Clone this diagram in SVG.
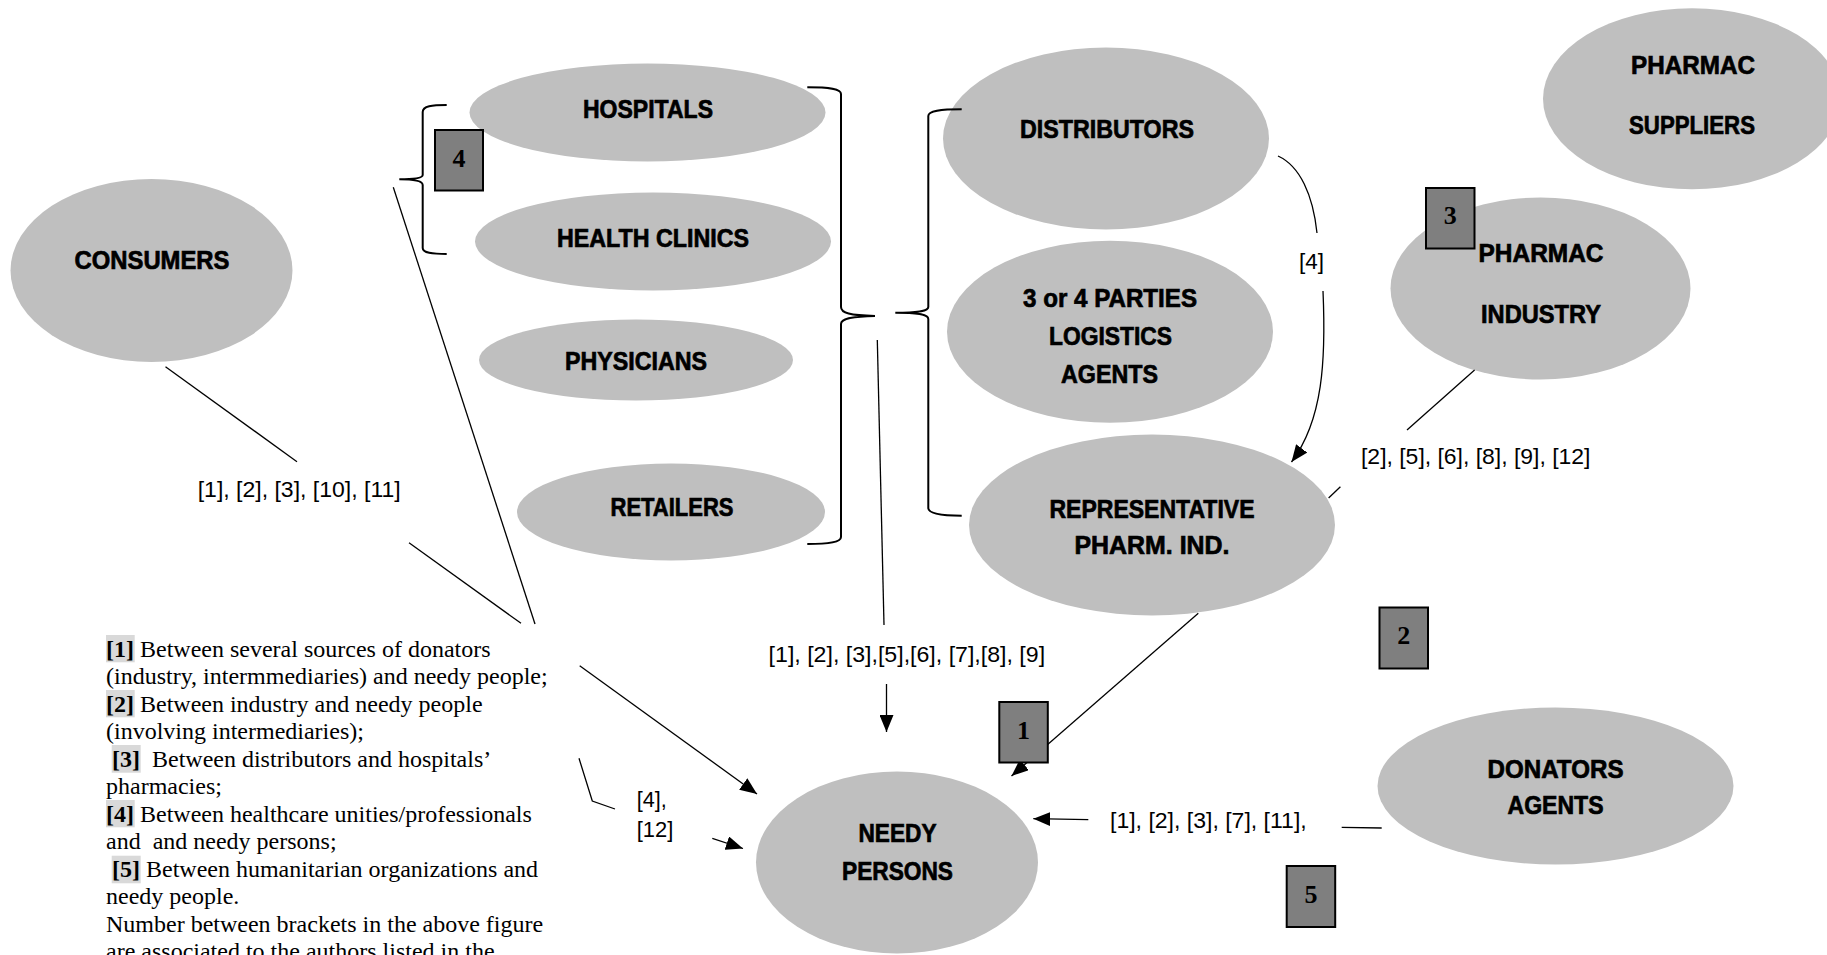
<svg xmlns="http://www.w3.org/2000/svg" width="1827" height="955" viewBox="0 0 1827 955">
<style>
.node ellipse{fill:#bfbfbf;stroke:none}
.lbl{font-family:"Liberation Sans",Arial,sans-serif;font-weight:bold;font-size:26px;fill:#000;stroke:#000;stroke-width:0.7;text-anchor:middle}
.box rect{fill:#7f7f7f;stroke:#000;stroke-width:2}
.box text{font-family:"Liberation Serif","Times New Roman",serif;font-weight:bold;font-size:26px;fill:#000;text-anchor:middle}
.ln{fill:none;stroke:#000;stroke-width:1.3}
.br{fill:none;stroke:#000;stroke-width:2}
.ref{font-family:"Liberation Sans",Arial,sans-serif;font-size:22px;fill:#000}
.leg{font-family:"Liberation Serif","Times New Roman",serif;font-size:24px;fill:#000;white-space:pre}
.hl{fill:#d9d9d9}
</style>
<defs>
<marker id="ah" markerUnits="userSpaceOnUse" markerWidth="18" markerHeight="14" refX="17" refY="7" orient="auto">
<path d="M0,0 L17,7 L0,14 z" fill="#000"/>
</marker>
</defs>
<rect width="1827" height="955" fill="#fff"/>

<g id="consumers" class="node"><ellipse cx="151.5" cy="270.5" rx="141" ry="91.5"/><text class="lbl" x="152" y="269" textLength="155" lengthAdjust="spacingAndGlyphs">CONSUMERS</text></g>
<g id="hospitals" class="node"><ellipse cx="647.5" cy="112.5" rx="178" ry="49"/><text class="lbl" x="648" y="118" textLength="130" lengthAdjust="spacingAndGlyphs">HOSPITALS</text></g>
<g id="health-clinics" class="node"><ellipse cx="653" cy="241.5" rx="178" ry="49"/><text class="lbl" x="653" y="246.5" textLength="192" lengthAdjust="spacingAndGlyphs">HEALTH CLINICS</text></g>
<g id="physicians" class="node"><ellipse cx="636" cy="360" rx="157" ry="40.5"/><text class="lbl" x="636" y="369.5" textLength="142" lengthAdjust="spacingAndGlyphs">PHYSICIANS</text></g>
<g id="retailers" class="node"><ellipse cx="671" cy="512" rx="154" ry="48.5"/><text class="lbl" x="672" y="515.5" textLength="123" lengthAdjust="spacingAndGlyphs">RETAILERS</text></g>
<g id="distributors" class="node"><ellipse cx="1106" cy="138.5" rx="163" ry="91"/><text class="lbl" x="1107" y="137.5" textLength="174" lengthAdjust="spacingAndGlyphs">DISTRIBUTORS</text></g>
<g id="logistics" class="node"><ellipse cx="1110" cy="331.7" rx="163" ry="91"/><text class="lbl" x="1110" y="306.7" textLength="174" lengthAdjust="spacingAndGlyphs">3 or 4 PARTIES</text><text class="lbl" x="1110.5" y="345" textLength="123" lengthAdjust="spacingAndGlyphs">LOGISTICS</text><text class="lbl" x="1109.5" y="383" textLength="97" lengthAdjust="spacingAndGlyphs">AGENTS</text></g>
<g id="representative" class="node"><ellipse cx="1152" cy="525" rx="183" ry="90.5"/><text class="lbl" x="1152" y="517.5" textLength="205" lengthAdjust="spacingAndGlyphs">REPRESENTATIVE</text><text class="lbl" x="1152" y="553.5" textLength="155" lengthAdjust="spacingAndGlyphs">PHARM. IND.</text></g>
<g id="pharmac-suppliers" class="node"><ellipse cx="1692" cy="98.8" rx="149" ry="90.5"/><text class="lbl" x="1693" y="73.5" textLength="124" lengthAdjust="spacingAndGlyphs">PHARMAC</text><text class="lbl" x="1692" y="133.5" textLength="126" lengthAdjust="spacingAndGlyphs">SUPPLIERS</text></g>
<g id="pharmac-industry" class="node"><ellipse cx="1540.5" cy="288.5" rx="150" ry="91"/><text class="lbl" x="1541" y="262" textLength="125" lengthAdjust="spacingAndGlyphs">PHARMAC</text><text class="lbl" x="1541" y="322.5" textLength="120" lengthAdjust="spacingAndGlyphs">INDUSTRY</text></g>
<g id="donators-agents" class="node"><ellipse cx="1555.5" cy="786" rx="178" ry="78.5"/><text class="lbl" x="1555.5" y="777.5" textLength="136" lengthAdjust="spacingAndGlyphs">DONATORS</text><text class="lbl" x="1555.5" y="814" textLength="96" lengthAdjust="spacingAndGlyphs">AGENTS</text></g>
<g id="needy-persons" class="node"><ellipse cx="897" cy="862.5" rx="141" ry="91"/><text class="lbl" x="897.5" y="841.7" textLength="78" lengthAdjust="spacingAndGlyphs">NEEDY</text><text class="lbl" x="897.5" y="880" textLength="111" lengthAdjust="spacingAndGlyphs">PERSONS</text></g>

<g id="connectors">
<path class="br" d="M446.7,105 C432,105 422.7,106 422.7,112 L422.7,175 C422.7,178 415,179.3 399.3,179.3 C415,179.3 422.7,181 422.7,185 L422.7,248 C422.7,253 432,254 446.7,254"/>
<path class="br" d="M807.3,87.3 C830,87.3 841,89 841,94 L841,307 C841,313 850,315.5 875,316 C850,316.5 841,319 841,324 L841,537 C841,542 830,544 807.3,544"/>
<path class="br" d="M961.7,109.3 C940,109.3 928.3,111 928.3,116 L928.3,307 C928.3,311 920,312.7 895.3,312.7 C920,312.7 928.3,314.5 928.3,319 L928.3,508 C928.3,513 940,515.7 961.7,515.7"/>
<path class="ln" d="M165.5,366.7 L297,461.7"/>
<path class="ln" d="M409,542.7 L521,623.3"/>
<path class="ln" d="M393.3,187.3 L535,624"/>
<path class="ln" marker-end="url(#ah)" d="M579.7,665.7 L757,794"/>
<path class="ln" d="M579,758.3 L592.3,801 L615,809"/>
<path class="ln" marker-end="url(#ah)" d="M712.3,838.3 L743,848.5"/>
<path class="ln" d="M877.3,340 L884,625"/>
<path class="ln" marker-end="url(#ah)" d="M886.5,684 L886.5,732"/>
<path class="ln" d="M1278,156 C1300,166 1313,195 1317,233"/>
<path class="ln" marker-end="url(#ah)" d="M1323,291 C1326,360 1323,420 1291.5,462"/>
<path class="ln" d="M1474.6,370 L1407,430"/>
<path class="ln" d="M1340.4,486.7 L1328.6,498"/>
<path class="ln" marker-end="url(#ah)" d="M1198.3,613.3 L1011.5,776"/>
<path class="ln" marker-end="url(#ah)" d="M1088.3,819.7 L1033.3,818.7"/>
<path class="ln" d="M1341.7,827.3 L1381.7,828"/>
</g>

<g id="box-4" class="box"><rect x="435" y="130" width="48" height="60.5"/><text x="459" y="166.5">4</text></g>
<g id="box-3" class="box"><rect x="1426" y="188" width="48.5" height="60.5"/><text x="1450.3" y="224">3</text></g>
<g id="box-2" class="box"><rect x="1379.5" y="607.5" width="48.5" height="61"/><text x="1403.7" y="643.5">2</text></g>
<g id="box-1" class="box"><rect x="999.3" y="702" width="48.5" height="60.5"/><text x="1023.5" y="738.5">1</text></g>
<g id="box-5" class="box"><rect x="1286.7" y="866" width="48.5" height="61"/><text x="1311" y="903">5</text></g>

<g id="labels">
<text class="ref" x="197.7" y="497" textLength="203" lengthAdjust="spacingAndGlyphs">[1], [2], [3], [10], [11]</text>
<text class="ref" x="768.6" y="661.5" textLength="276.5" lengthAdjust="spacingAndGlyphs">[1], [2], [3],[5],[6], [7],[8], [9]</text>
<text class="ref" x="1299" y="269" textLength="25" lengthAdjust="spacingAndGlyphs">[4]</text>
<text class="ref" x="1361" y="464" textLength="229.5" lengthAdjust="spacingAndGlyphs">[2], [5], [6], [8], [9], [12]</text>
<text class="ref" x="636.7" y="806.7" textLength="30" lengthAdjust="spacingAndGlyphs">[4],</text>
<text class="ref" x="636.7" y="836.7" textLength="36.6" lengthAdjust="spacingAndGlyphs">[12]</text>
<text class="ref" x="1110" y="827.5" textLength="196.7" lengthAdjust="spacingAndGlyphs">[1], [2], [3], [7], [11],</text>
</g>

<g id="legend">
<rect class="hl" x="106" y="635" width="28.7" height="27.3"/>
<rect class="hl" x="106" y="690" width="28.7" height="27.3"/>
<rect class="hl" x="111.7" y="745" width="29" height="27.7"/>
<rect class="hl" x="106" y="800" width="28.7" height="27.3"/>
<rect class="hl" x="111.7" y="855.7" width="29" height="27.6"/>
<text class="leg" x="106" y="656.7"><tspan font-weight="bold">[1]</tspan> Between several sources of donators</text>
<text class="leg" x="106" y="684.2">(industry, intermmediaries) and needy people;</text>
<text class="leg" x="106" y="711.7"><tspan font-weight="bold">[2]</tspan> Between industry and needy people</text>
<text class="leg" x="106" y="739.2">(involving intermediaries);</text>
<text class="leg" xml:space="preserve" x="106" y="766.7"> <tspan font-weight="bold">[3]</tspan>  Between distributors and hospitals’</text>
<text class="leg" x="106" y="794.2">pharmacies;</text>
<text class="leg" x="106" y="821.7"><tspan font-weight="bold">[4]</tspan> Between healthcare unities/professionals</text>
<text class="leg" xml:space="preserve" x="106" y="849.2">and  and needy persons;</text>
<text class="leg" xml:space="preserve" x="106" y="876.7"> <tspan font-weight="bold">[5]</tspan> Between humanitarian organizations and</text>
<text class="leg" x="106" y="904.2">needy people.</text>
<text class="leg" x="106" y="931.7">Number between brackets in the above figure</text>
<text class="leg" x="106" y="959.2">are associated to the authors listed in the</text>
</g>
</svg>
